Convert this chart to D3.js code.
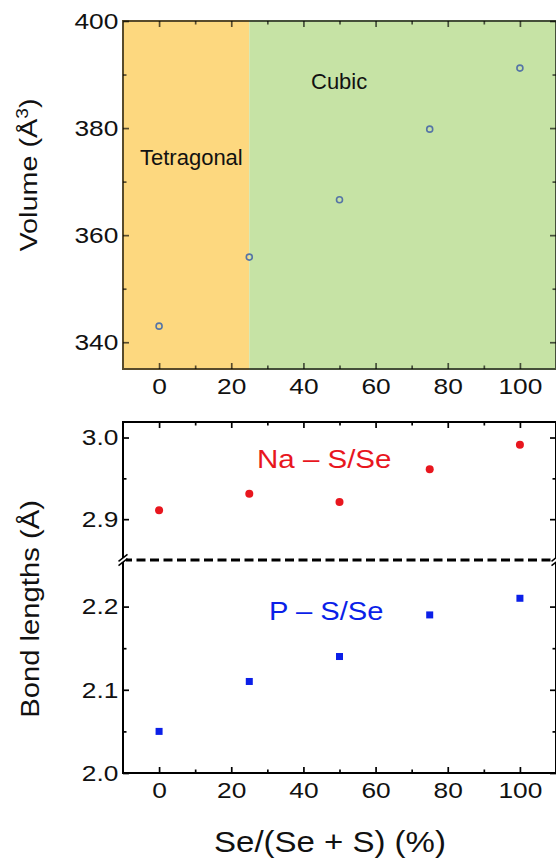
<!DOCTYPE html>
<html>
<head>
<meta charset="utf-8">
<script src="https://cdn.jsdelivr.net/npm/d3@7"></script>
<style>
  html, body { margin: 0; padding: 0; background: #fff; }
  svg { display: block; font-family: "Liberation Sans", Arial, sans-serif; }
</style>
</head>
<body>
<div id="chart"></div>
<script>
// composition Se/(Se+S) in %
const composition = [0, 25, 50, 75, 100];
const volume = [343.0, 355.9, 366.6, 379.8, 391.2];
const naBond = [2.911, 2.931, 2.921, 2.961, 2.991];
const pBond = [2.05, 2.11, 2.14, 2.19, 2.21];

const phaseNames = ['Tetragonal', 'Cubic'];
const phaseFrom = [-10, 25];
const phaseTo = [25, 110];

const xTicks = [0, 20, 40, 60, 80, 100];
const xMinor = [10, 30, 50, 70, 90];
const volTicks = [340, 360, 380, 400];
const volMinor = [350, 370, 390];
const upperTicks = [2.9, 3.0];
const upperMinor = [2.95];
const lowerTicks = [2.0, 2.1, 2.2];
const lowerMinor = [2.05, 2.15];

const width = 556, height = 860;
const svg = d3.select('#chart').append('svg')
  .attr('width', width).attr('height', height);

const left = 123, right = 556;
const xScale = d3.scaleLinear().domain([-10, 110]).range([left, right]);

// top panel
const top1 = 21, bot1 = 369;
const yVol = d3.scaleLinear().domain([335, 400]).range([bot1, top1]);

// bottom panel (broken axis)
const top2 = 422, brk = 560, bot2 = 773;
const yUp = d3.scaleLinear().domain([2.85, 3.019]).range([brk, top2]);
const yLow = d3.scaleLinear().domain([2.0, 2.256]).range([bot2, brk]);

const phaseColors = ['#fdd87f', '#c6e3a5'];

function drawAxis(orient, scale, pos, major, minor, fmt, color, opacity) {
  const make = { left: d3.axisLeft, right: d3.axisRight, top: d3.axisTop, bottom: d3.axisBottom }[orient];
  const vertical = orient === 'left' || orient === 'right';
  const tr = vertical ? `translate(${pos},0)` : `translate(0,${pos})`;

  const gMin = svg.append('g').attr('transform', tr)
    .call(make(scale).tickValues(minor).tickSize(-3.5).tickFormat(''));
  const gMaj = svg.append('g').attr('transform', tr)
    .call(make(scale).tickValues(major).tickSize(-6)
      .tickPadding(vertical ? 4 : 9.5)
      .tickFormat(fmt || ''));

  [gMin, gMaj].forEach(g => {
    g.select('.domain').remove();
    g.selectAll('.tick line')
      .attr('stroke', color).attr('stroke-opacity', opacity).attr('stroke-width', 1.7);
  });
  gMaj.selectAll('.tick text')
    .attr('fill', '#111')
    .style('font-size', '22.5px')
    .attr('transform', 'scale(1.17,1)');
}

// ---- top panel ----
phaseNames.forEach((name, i) => {
  const x0 = Math.max(xScale(phaseFrom[i]), left - 1);
  const x1 = Math.min(xScale(phaseTo[i]), right + 1);
  svg.append('rect')
    .attr('x', i === 0 ? x0 - 1 : x0).attr('y', top1 - 1)
    .attr('width', x1 - x0 + 1).attr('height', bot1 - top1 + 2)
    .attr('fill', phaseColors[i]);
});

svg.append('rect')
  .attr('x', left).attr('y', top1)
  .attr('width', right - left).attr('height', bot1 - top1)
  .attr('fill', 'none').attr('stroke', '#000').attr('stroke-opacity', 0.65)
  .attr('stroke-width', 2);

drawAxis('left', yVol, left, volTicks, volMinor, d3.format('d'), '#000', 0.65);
drawAxis('right', yVol, right, volTicks, volMinor, null, '#000', 0.65);
drawAxis('bottom', xScale, bot1, xTicks, xMinor, d3.format('d'), '#000', 0.65);
drawAxis('top', xScale, top1, xTicks, xMinor, null, '#000', 0.65);

svg.append('text').attr('x', 140).attr('y', 165)
  .style('font-size', '22px').attr('fill', '#111').text(phaseNames[0]);
svg.append('text').attr('x', 311).attr('y', 89)
  .style('font-size', '22px').attr('fill', '#111').text(phaseNames[1]);

svg.append('g').selectAll('circle')
  .data(composition)
  .join('circle')
  .attr('cx', (d) => xScale(d))
  .attr('cy', (d, i) => yVol(volume[i]))
  .attr('r', 3)
  .attr('fill', 'none')
  .attr('stroke', '#5574a6')
  .attr('stroke-width', 1.6);

const volLabel = svg.append('text')
  .attr('transform', 'translate(37,175) rotate(-90) scale(1.2,1)')
  .attr('text-anchor', 'middle')
  .style('font-size', '24px').attr('fill', '#111');
volLabel.append('tspan').text('Volume (Å');
volLabel.append('tspan').attr('dy', -9).style('font-size', '16px').text('3');
volLabel.append('tspan').attr('dy', 9).text(')');

// ---- bottom panel ----
svg.append('line')
  .attr('x1', left).attr('x2', right).attr('y1', top2).attr('y2', top2)
  .attr('stroke', '#000').attr('stroke-width', 2);
svg.append('line')
  .attr('x1', left).attr('x2', right).attr('y1', bot2).attr('y2', bot2)
  .attr('stroke', '#000').attr('stroke-width', 2);
[left, right].forEach(x => {
  svg.append('line').attr('x1', x).attr('x2', x).attr('y1', top2 - 1).attr('y2', bot2 + 1)
    .attr('stroke', '#000').attr('stroke-width', 2);
});

drawAxis('left', yUp, left, upperTicks, upperMinor, d3.format('.1f'), '#000', 1);
drawAxis('left', yLow, left, lowerTicks, lowerMinor, d3.format('.1f'), '#000', 1);
drawAxis('right', yUp, right, upperTicks, upperMinor, null, '#000', 1);
drawAxis('right', yLow, right, lowerTicks, lowerMinor, null, '#000', 1);
drawAxis('bottom', xScale, bot2, xTicks, xMinor, d3.format('d'), '#000', 1);
drawAxis('top', xScale, top2, xTicks, xMinor, null, '#000', 1);

// dashed break line
svg.append('line')
  .attr('x1', left).attr('x2', right).attr('y1', brk).attr('y2', brk)
  .attr('stroke', '#000').attr('stroke-width', 3)
  .attr('stroke-dasharray', '9,4.5');

// break marks on the axes
[left, right].forEach(x => {
  svg.append('rect').attr('x', x - 3).attr('y', brk - 2).attr('width', 6).attr('height', 4)
    .attr('fill', '#fff');
  [-2.2, 2.2].forEach(off => {
    svg.append('line')
      .attr('x1', x - 4.5).attr('y1', brk + off + 3.5)
      .attr('x2', x + 4.5).attr('y2', brk + off - 3.5)
      .attr('stroke', '#000').attr('stroke-width', 1.5);
  });
});

svg.append('g').selectAll('circle')
  .data(composition)
  .join('circle')
  .attr('cx', (d) => xScale(d))
  .attr('cy', (d, i) => yUp(naBond[i]))
  .attr('r', 4)
  .attr('fill', '#e8161e');

svg.append('g').selectAll('rect')
  .data(composition)
  .join('rect')
  .attr('x', (d) => xScale(d) - 3.5)
  .attr('y', (d, i) => yLow(pBond[i]) - 3.5)
  .attr('width', 7).attr('height', 7)
  .attr('fill', '#0b1fe8');

svg.append('text')
  .attr('transform', 'translate(257,468) scale(1.18,1)')
  .style('font-size', '25px').attr('fill', '#e8161e').text('Na – S/Se');
svg.append('text')
  .attr('transform', 'translate(269,620) scale(1.165,1)')
  .style('font-size', '25px').attr('fill', '#0b1fe8').text('P – S/Se');

svg.append('text')
  .attr('transform', 'translate(39,609) rotate(-90) scale(1.17,1)')
  .attr('text-anchor', 'middle')
  .style('font-size', '25px').attr('fill', '#111')
  .text('Bond lengths (Å)');

svg.append('text')
  .attr('transform', 'translate(330,852) scale(1.1,1)')
  .attr('text-anchor', 'middle')
  .style('font-size', '30px').attr('fill', '#111')
  .text('Se/(Se + S) (%)');
</script>
</body>
</html>
